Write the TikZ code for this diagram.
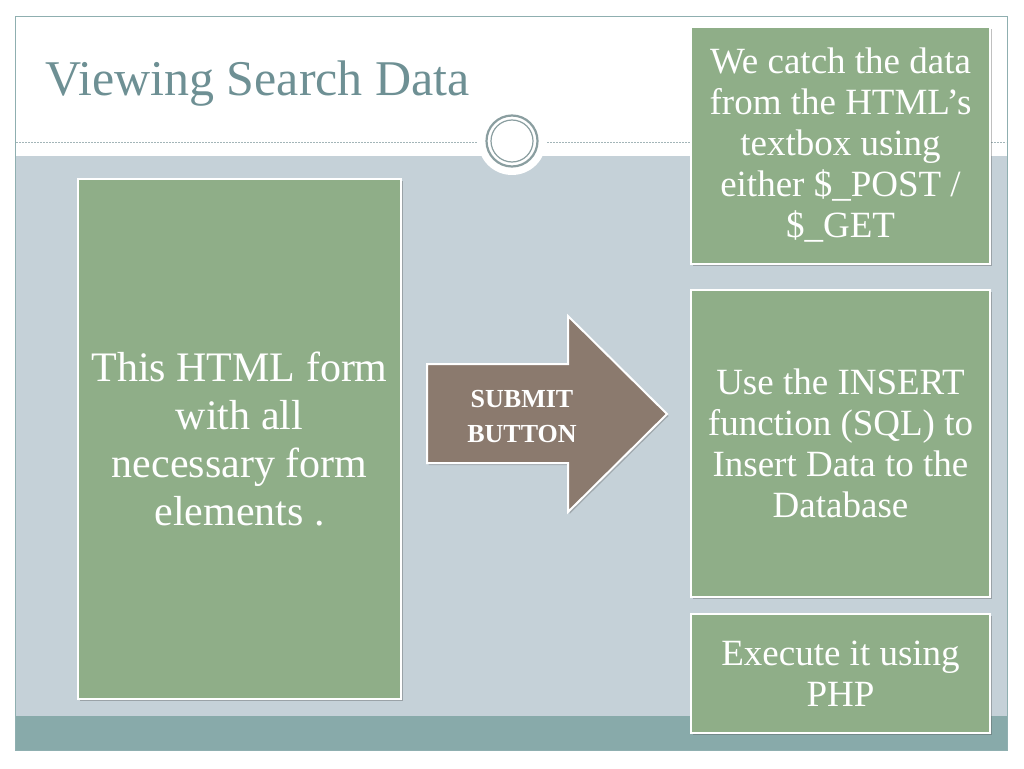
\documentclass[tikz,border=0pt]{standalone}
\usepackage{fontspec}
\setmainfont{Liberation Serif}
\usetikzlibrary{shadows}
\definecolor{boxgreen}{HTML}{8FAE88}
\definecolor{contentbg}{HTML}{C5D1D8}
\definecolor{bandc}{HTML}{88AAAA}
\definecolor{titlec}{HTML}{6E9094}
\definecolor{arrowc}{HTML}{8B7A6E}
\definecolor{framec}{HTML}{8FAFB0}
\definecolor{dashc}{HTML}{A3B5B8}
\definecolor{ringc}{HTML}{8A9EA0}
\begin{document}
\begin{tikzpicture}[x=1pt,y=-1pt,
  gbox/.style={draw=white, line width=2pt, fill=boxgreen, text=white, align=center, inner sep=0pt,
    drop shadow={shadow xshift=1.5pt, shadow yshift=-2pt, opacity=0.35, fill=black!70}},
  rtext/.style={font=\fontsize{37}{41}\selectfont}]
\useasboundingbox (0,0) rectangle (1024,768);
\fill[white] (0,0) rectangle (1024,768);
% slide frame
\fill[contentbg] (15,156) rectangle (1007,716);
\fill[bandc] (15,716) rectangle (1007,750);
\draw[framec, line width=1pt] (15,17) rectangle (1007,750);
\draw[dashc, line width=1pt, dash pattern=on 2pt off 1pt] (16,142) -- (1006,142);
% title
\node[anchor=base west, inner sep=0pt, text=titlec, font=\fontsize{50}{60}\selectfont] (title) at (45,95) {Viewing Search Data};
% ornament circle
\fill[white] (512,141) circle (34);
\draw[ringc, line width=2.2pt] (512,141) circle (25.5);
\draw[ringc, line width=1.2pt] (512,141) circle (21);
\coordinate (orn) at (512,141);
% left box
\node[gbox, minimum width=323pt, minimum height=520pt, font=\fontsize{42}{48}\selectfont] (form) at (239.5,439)
  {This HTML form\\with all\\necessary form\\elements .};
% arrow
\path[fill=arrowc, draw=white, line width=2pt, drop shadow={shadow xshift=1.5pt, shadow yshift=-2pt, opacity=0.3, fill=black!70}]
  (427,364) -- (568,364) -- (568,316) -- (667,414) -- (568,512) -- (568,463) -- (427,463) -- cycle;
\node[text=white, align=center, font=\bfseries\fontsize{26}{35}\selectfont] (submit) at (522,417) {SUBMIT\\BUTTON};
% right boxes
\node[gbox, rtext, minimum width=299pt, minimum height=237pt] (catch) at (840.5,145.5)
  {We catch the data\\from the HTML’s\\textbox using\\either \$\_POST /\\\$\_GET};
\node[gbox, rtext, minimum width=299pt, minimum height=307pt] (insert) at (840.5,443.5)
  {Use the INSERT\\function (SQL) to\\Insert Data to the\\Database};
\node[gbox, rtext, minimum width=299pt, minimum height=119pt] (exec) at (840.5,673.5)
  {Execute it using\\PHP};
\end{tikzpicture}
\end{document}
